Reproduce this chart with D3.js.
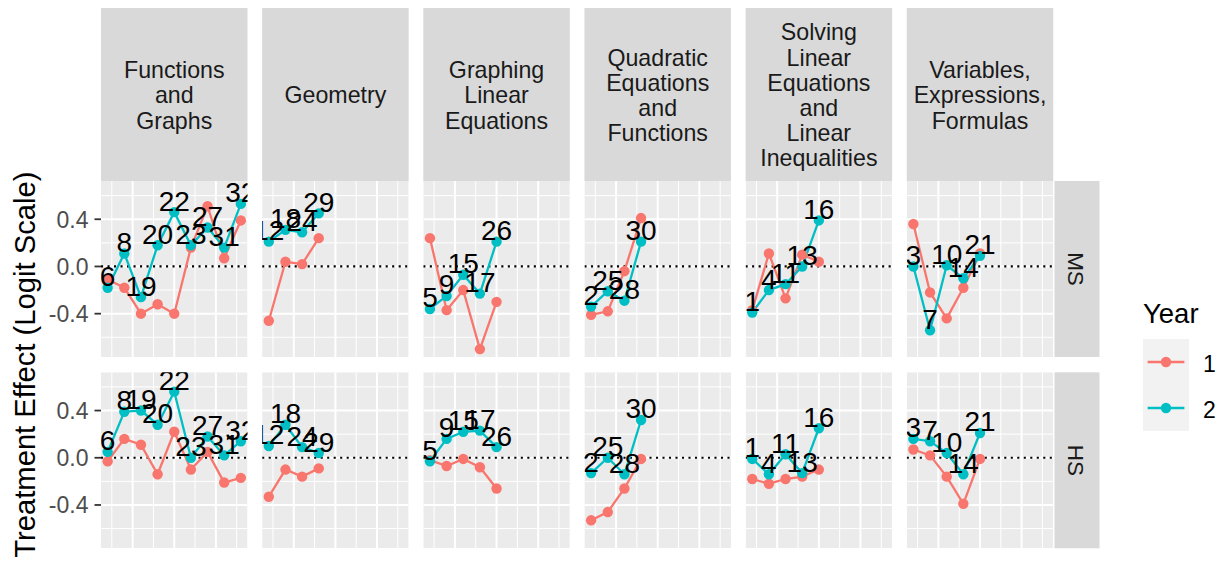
<!DOCTYPE html>
<html>
<head>
<meta charset="utf-8">
<script src="https://cdn.jsdelivr.net/npm/d3@7"></script>
<style>
  html, body { margin: 0; padding: 0; background: #ffffff; }
  svg { display: block; font-family: "Liberation Sans", Arial, sans-serif; }
</style>
</head>
<body>
<svg id="chart" width="1225" height="562"></svg>
<script>
// ---- data -------------------------------------------------------------
const topics = [
  "Functions\nand\nGraphs",
  "Geometry",
  "Graphing\nLinear\nEquations",
  "Quadratic\nEquations\nand\nFunctions",
  "Solving\nLinear\nEquations\nand\nLinear\nInequalities",
  "Variables,\nExpressions,\nFormulas"
];
const levels = ["MS", "HS"];
const years = ["1", "2"];

// unit number shown beside each year-2 point, in order within the topic
const unitLabels = [
  [6, 8, 19, 20, 22, 23, 27, 31, 32],
  [12, 18, 24, 29],
  [5, 9, 15, 17, 26],
  [2, 25, 28, 30],
  [1, 4, 11, 13, 16],
  [3, 7, 10, 14, 21]
];

// treatment effects (logit scale), one list per topic
const msYear1 = [
  [-0.11, -0.18, -0.40, -0.32, -0.40, 0.16, 0.51, 0.07, 0.39],
  [-0.46, 0.04, 0.02, 0.24],
  [0.24, -0.37, -0.20, -0.70, -0.30],
  [-0.41, -0.38, -0.04, 0.41],
  [-0.37, 0.11, -0.27, 0.10, 0.04],
  [0.36, -0.22, -0.44, -0.18, 0.11]
];
const msYear2 = [
  [-0.18, 0.11, -0.26, 0.18, 0.46, 0.18, 0.33, 0.16, 0.53],
  [0.21, 0.31, 0.29, 0.45],
  [-0.36, -0.25, -0.07, -0.23, 0.21],
  [-0.34, -0.21, -0.29, 0.21],
  [-0.39, -0.20, -0.15, 0.00, 0.39],
  [0.00, -0.54, 0.01, -0.10, 0.09]
];
const hsYear1 = [
  [-0.03, 0.16, 0.11, -0.14, 0.22, -0.10, 0.05, -0.21, -0.17],
  [-0.33, -0.10, -0.16, -0.09],
  [-0.02, -0.07, -0.01, -0.08, -0.26],
  [-0.53, -0.46, -0.26, -0.01],
  [-0.18, -0.22, -0.18, -0.16, -0.10],
  [0.07, 0.02, -0.16, -0.39, -0.01]
];
const hsYear2 = [
  [0.05, 0.39, 0.40, 0.28, 0.56, 0.00, 0.18, 0.02, 0.14],
  [0.10, 0.28, 0.09, 0.04],
  [-0.03, 0.16, 0.22, 0.23, 0.09],
  [-0.13, 0.00, -0.14, 0.32],
  [-0.01, -0.14, 0.03, -0.13, 0.25],
  [0.16, 0.14, 0.04, -0.14, 0.21]
];

const yTicks = [-0.4, 0.0, 0.4];
const yTickLabels = ["-0.4", "0.0", "0.4"];
const yMinorTicks = [-0.6, -0.2, 0.2, 0.6];
const xMajorTicks = [2.5, 5, 7.5];
const xMinorTicks = [1.25, 3.75, 6.25, 8.75];

const yTitle = "Treatment Effect (Logit Scale)";
const legendTitle = "Year";

// ---- layout & style ---------------------------------------------------
const yearColors = { "1": "#F8766D", "2": "#00BFC4" };
const panelBg = "#EBEBEB", stripBg = "#D9D9D9";
const panelLeft0 = 101, panelW = 146.5, panelStep = 161.15;
const stripTop = 8, stripBottom = 181;
const rowTops = [181, 372.3], panelH = 176;
const rightStripX = 1054.5, rightStripW = 45;
const pointR = 5.2, lineW = 2.3;

const svg = d3.select("#chart");
const defs = svg.append("defs");

const seriesByLevel = {
  MS: { "1": msYear1, "2": msYear2 },
  HS: { "1": hsYear1, "2": hsYear2 }
};

// x: position within a topic (1..9), with 5% expansion each side
const xDomain = [1 - 0.4, 9 + 0.4];
const yDomain = [-0.767, 0.724];

// ---- top strips -------------------------------------------------------
topics.forEach((t, i) => {
  const x0 = panelLeft0 + i * panelStep;
  svg.append("rect")
    .attr("x", x0).attr("y", stripTop)
    .attr("width", panelW).attr("height", stripBottom - stripTop)
    .attr("fill", stripBg);
  const lines = t.split("\n");
  const n = lines.length, lh = 25.2;
  const cy = (stripTop + stripBottom) / 2;
  const txt = svg.append("text")
    .attr("text-anchor", "middle")
    .attr("font-size", 23.2)
    .attr("fill", "#1A1A1A");
  lines.forEach((ln, k) => {
    txt.append("tspan")
      .attr("x", x0 + panelW / 2)
      .attr("y", cy + (k - (n - 1) / 2) * lh + 8.8)
      .text(ln);
  });
});

// ---- panels -----------------------------------------------------------
levels.forEach((lev, r) => {
  const top = rowTops[r];
  const y = d3.scaleLinear().domain(yDomain).range([top + panelH, top]);

  topics.forEach((t, i) => {
    const x0 = panelLeft0 + i * panelStep;
    const x = d3.scaleLinear().domain(xDomain).range([x0, x0 + panelW]);
    const clipId = `clip-${r}-${i}`;
    defs.append("clipPath").attr("id", clipId)
      .append("rect").attr("x", x0).attr("y", top)
      .attr("width", panelW).attr("height", panelH);

    const g = svg.append("g").attr("clip-path", `url(#${clipId})`);
    g.append("rect").attr("x", x0).attr("y", top)
      .attr("width", panelW).attr("height", panelH).attr("fill", panelBg);

    // minor grid
    g.selectAll(".vminor").data(xMinorTicks).join("line")
      .attr("x1", d => x(d)).attr("x2", d => x(d))
      .attr("y1", top).attr("y2", top + panelH)
      .attr("stroke", "#fff").attr("stroke-width", 1);
    g.selectAll(".hminor").data(yMinorTicks).join("line")
      .attr("y1", d => y(d)).attr("y2", d => y(d))
      .attr("x1", x0).attr("x2", x0 + panelW)
      .attr("stroke", "#fff").attr("stroke-width", 1);
    // major grid
    g.selectAll(".vmajor").data(xMajorTicks).join("line")
      .attr("x1", d => x(d)).attr("x2", d => x(d))
      .attr("y1", top).attr("y2", top + panelH)
      .attr("stroke", "#fff").attr("stroke-width", 2);
    g.selectAll(".hmajor").data(yTicks).join("line")
      .attr("y1", d => y(d)).attr("y2", d => y(d))
      .attr("x1", x0).attr("x2", x0 + panelW)
      .attr("stroke", "#fff").attr("stroke-width", 2);

    // zero reference line
    g.append("line")
      .attr("x1", x0).attr("x2", x0 + panelW)
      .attr("y1", y(0)).attr("y2", y(0))
      .attr("stroke", "#000").attr("stroke-width", 2.2)
      .attr("stroke-dasharray", "2.1 4.4");

    const line = d3.line().x(d => x(d.pos)).y(d => y(d.v));
    const seriesData = years.map(yr => ({
      year: yr,
      pts: seriesByLevel[lev][yr][i].map((v, k) => ({ pos: k + 1, v }))
    }));

    // lines, then points, then unit labels
    seriesData.forEach(s => {
      g.append("path").attr("d", line(s.pts))
        .attr("fill", "none").attr("stroke", yearColors[s.year])
        .attr("stroke-width", lineW);
    });
    seriesData.forEach(s => {
      g.selectAll(null).data(s.pts).join("circle")
        .attr("cx", d => x(d.pos)).attr("cy", d => y(d.v))
        .attr("r", pointR).attr("fill", yearColors[s.year]);
    });
    const labelPts = seriesData[1].pts;
    g.selectAll(null).data(labelPts).join("text")
      .attr("x", d => x(d.pos)).attr("y", d => y(d.v) - 1.5)
      .attr("text-anchor", "middle")
      .attr("font-size", 28)
      .attr("fill", "#000")
      .text((d, k) => unitLabels[i][k]);
  });

  // y axis ticks and labels
  const ax = svg.append("g");
  ax.selectAll("line").data(yTicks).join("line")
    .attr("x1", panelLeft0 - 6.5).attr("x2", panelLeft0)
    .attr("y1", d => y(d)).attr("y2", d => y(d))
    .attr("stroke", "#333333").attr("stroke-width", 1.8);
  ax.selectAll("text").data(yTicks).join("text")
    .attr("x", panelLeft0 - 12.5).attr("y", d => y(d))
    .attr("dy", "0.36em")
    .attr("text-anchor", "end")
    .attr("font-size", 23)
    .attr("fill", "#4D4D4D")
    .text((d, k) => yTickLabels[k]);

  // right strip
  svg.append("rect")
    .attr("x", rightStripX).attr("y", top)
    .attr("width", rightStripW).attr("height", panelH)
    .attr("fill", stripBg);
  svg.append("text")
    .attr("transform", `translate(${rightStripX + rightStripW / 2 - 1},${top + panelH / 2}) rotate(90)`)
    .attr("text-anchor", "middle")
    .attr("dy", "0.36em")
    .attr("font-size", 22.5)
    .attr("fill", "#1A1A1A")
    .text(lev);
});

// ---- y axis title -----------------------------------------------------
svg.append("text")
  .attr("transform", `translate(35,${(rowTops[0] + rowTops[1] + panelH) / 2}) rotate(-90)`)
  .attr("text-anchor", "middle")
  .attr("font-size", 29.2)
  .attr("fill", "#000")
  .text(yTitle);

// ---- legend -----------------------------------------------------------
const lg = svg.append("g");
lg.append("text").attr("x", 1143).attr("y", 322.7)
  .attr("font-size", 27.5).attr("fill", "#000").text(legendTitle);
const keyX = 1143, keyW = 46, keyH = 46, keyTop = 339;
years.forEach((yr, k) => {
  const ky = keyTop + k * keyH;
  lg.append("rect").attr("x", keyX).attr("y", ky)
    .attr("width", keyW).attr("height", keyH).attr("fill", "#F2F2F2");
  const cy = ky + keyH / 2;
  lg.append("line")
    .attr("x1", keyX + keyW * 0.1).attr("x2", keyX + keyW * 0.9)
    .attr("y1", cy).attr("y2", cy)
    .attr("stroke", yearColors[yr]).attr("stroke-width", lineW);
  lg.append("circle").attr("cx", keyX + keyW / 2).attr("cy", cy)
    .attr("r", pointR).attr("fill", yearColors[yr]);
  lg.append("text").attr("x", 1203).attr("y", cy + 9.6)
    .attr("font-size", 23).attr("fill", "#000").text(yr);
});
</script>
</body>
</html>
